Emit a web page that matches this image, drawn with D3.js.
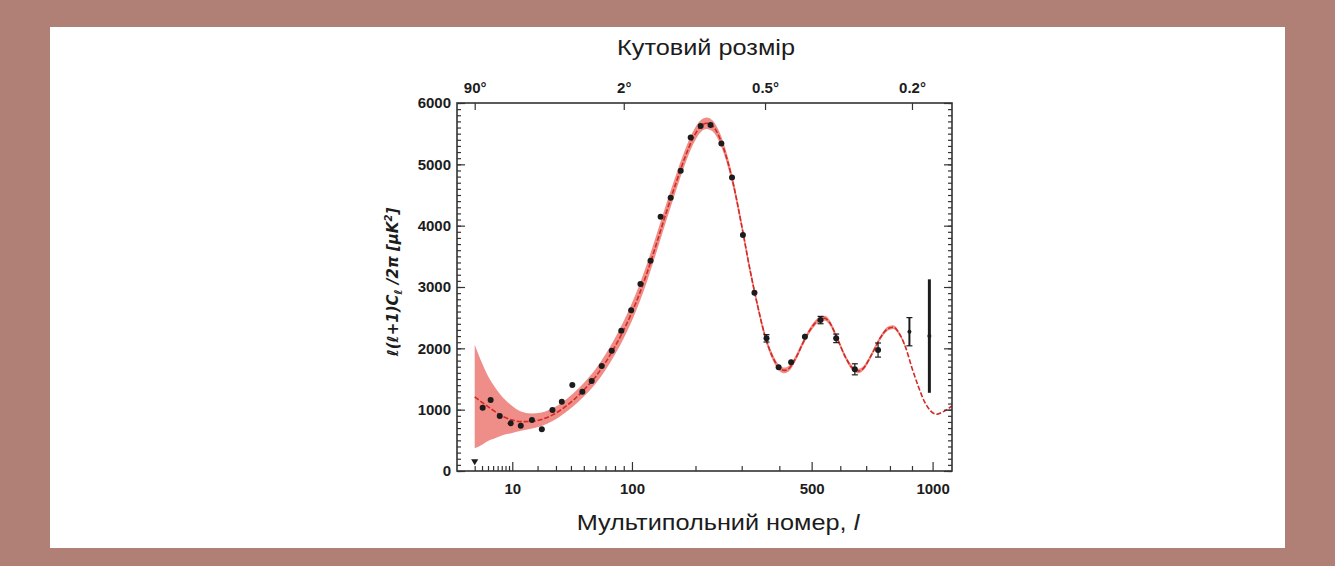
<!DOCTYPE html>
<html>
<head>
<meta charset="utf-8">
<script src="https://cdn.jsdelivr.net/npm/d3@7"></script>
<style>
  html, body { margin: 0; padding: 0; background: #b08076; }
  #chart { width: 1335px; height: 566px; }
  text { font-family: "Liberation Sans", Arial, Helvetica, sans-serif; }
</style>
</head>
<body>
<div id="chart"></div>
<script>
// best fit model (l, uK^2)
var theoryL = [2, 3, 4, 5, 7, 10, 13, 17, 22, 28, 35, 42, 50, 60, 70, 80, 90, 100, 110, 120, 135, 150, 165, 180, 195, 210, 222, 235, 250, 265, 280, 300, 320, 340, 360, 380, 400, 415, 430, 450, 475, 500, 530, 545, 560, 590, 620, 650, 670, 690, 720, 760, 790, 815, 840, 870, 900, 930, 960, 990, 1020, 1050, 1100];
var theoryValue = [1210, 1120, 1050, 990, 900, 830, 805, 808, 840, 915, 1030, 1160, 1320, 1530, 1770, 2030, 2300, 2590, 2900, 3230, 3750, 4250, 4700, 5100, 5420, 5620, 5670, 5620, 5420, 5100, 4680, 4000, 3300, 2700, 2200, 1870, 1680, 1640, 1680, 1850, 2120, 2340, 2480, 2490, 2430, 2150, 1850, 1660, 1630, 1680, 1880, 2180, 2320, 2345, 2250, 2020, 1680, 1380, 1130, 980, 925, 960, 1060];

// cosmic variance band (pink)
var bandL = [2, 3, 4, 5, 7, 10, 13, 17, 22, 28, 35, 42, 50, 60, 70, 80, 90, 100, 110, 120, 135, 150, 165, 180, 195, 210, 222, 235, 250, 265, 280, 300, 320, 340, 360, 380, 400, 415, 430, 450, 475, 500, 530, 545, 560, 590, 620, 650, 670, 690, 720, 760, 790, 815, 840, 870];
var bandLow = [370, 430, 490, 520, 580, 620, 655, 688, 735, 815, 935, 1060, 1215, 1415, 1645, 1900, 2165, 2450, 2760, 3090, 3610, 4115, 4575, 4985, 5315, 5525, 5575, 5530, 5335, 5020, 4605, 3930, 3235, 2640, 2145, 1820, 1632, 1594, 1635, 1806, 2077, 2298, 2439, 2450, 2390, 2111, 1812, 1623, 1594, 1645, 1846, 2147, 2288, 2314, 2220, 2000];
var bandHigh = [2060, 1760, 1550, 1410, 1220, 1060, 970, 938, 955, 1025, 1135, 1270, 1435, 1655, 1905, 2170, 2445, 2740, 3050, 3380, 3895, 4390, 4830, 5220, 5530, 5720, 5765, 5710, 5505, 5180, 4755, 4070, 3365, 2760, 2255, 1920, 1728, 1686, 1725, 1894, 2163, 2382, 2521, 2530, 2470, 2189, 1888, 1697, 1666, 1715, 1914, 2213, 2352, 2376, 2280, 2040];

// measured band powers
var dataL = [3.1, 4.5, 6.5, 9.5, 12.9, 17.4, 22.1, 27.9, 33.7, 41, 48.8, 56.8, 66.2, 76.5, 87.1, 99, 111, 125, 140, 156, 173, 191, 210, 230, 253, 277, 303, 332, 364, 398, 435, 478, 530, 585, 655, 749, 888, 984];
var dataValue = [1030, 1157, 896, 777, 739, 831, 679, 994, 1130, 1402, 1293, 1467, 1711, 1961, 2287, 2620, 3048, 3428, 4145, 4455, 4895, 5439, 5623, 5640, 5341, 4787, 3847, 2906, 2163, 1690, 1772, 2189, 2461, 2163, 1658, 1972, 2271, 2200];
var dataError = [30, 30, 30, 30, 30, 30, 30, 30, 30, 30, 30, 30, 30, 30, 30, 30, 30, 30, 30, 30, 30, 30, 30, 30, 30, 30, 30, 40, 60, 40, 40, 50, 60, 70, 90, 115, 230, 925];

// quadrupole, drawn as a triangle
var limitL = [2];
var limitValue = [160];

var multipoleTicks = [10, 100, 500, 1000];
var multipoleMinor = [2, 3, 4, 5, 6, 7, 8, 9, 20, 30, 40, 50, 60, 70, 80, 90, 200, 300, 400, 600, 700, 800, 900];
var angleL = [2, 90, 360, 900];
var angleLabels = ['90°', '2°', '0.5°', '0.2°'];
var powerTicks = [0, 1000, 2000, 3000, 4000, 5000, 6000];
var powerMinor = d3.range(0, 6001, 100);

var chart = (function(){
    var _width = 1335,
        _height = 566;

    // white panel inside the brown border
    var _panel = {x: 50, y: 27, w: 1235, h: 521};

    // plot frame
    var _plot = {x: 457, y: 103, w: 495, h: 368};

    var _colors = {
        border: '#b08076',
        band: '#ef8d88',
        model: '#d42a24',
        ink: '#1c1c1c',
        frame: '#333333'
    };

    var _svg = null, _x = null, _y = null;

    function init(){
        _svg = d3.select('#chart').append('svg')
            .attr('width', _width)
            .attr('height', _height);

        _x = d3.scalePow().exponent(0.4)
            .domain([0.5, 1100])
            .range([0, _plot.w]);
        _y = d3.scaleLinear()
            .domain([0, 6000])
            .range([_plot.h, 0]);
    }

    function drawAll(){
        _svg.append('rect')
            .attr('width', _width).attr('height', _height)
            .attr('fill', _colors.border);
        _svg.append('rect')
            .attr('x', _panel.x).attr('y', _panel.y)
            .attr('width', _panel.w).attr('height', _panel.h)
            .attr('fill', '#fff');

        var g = _svg.append('g')
            .attr('transform', 'translate(' + _plot.x + ',' + _plot.y + ')');

        _drawBand(g);
        _drawModel(g);
        _drawData(g);
        _drawAxes(g);
        _drawLabels();
    }

    function _drawBand(g){
        var area = d3.area()
            .x(function(d, i){ return _x(bandL[i]); })
            .y0(function(d, i){ return _y(bandLow[i]); })
            .y1(function(d, i){ return _y(bandHigh[i]); })
            .curve(d3.curveMonotoneX);

        g.append('path')
            .datum(bandL)
            .attr('d', area)
            .attr('fill', _colors.band);
    }

    function _drawModel(g){
        var line = d3.line()
            .x(function(d, i){ return _x(theoryL[i]); })
            .y(function(d, i){ return _y(theoryValue[i]); })
            .curve(d3.curveMonotoneX);

        g.append('path')
            .datum(theoryL)
            .attr('d', line)
            .attr('fill', 'none')
            .attr('stroke', _colors.model)
            .attr('stroke-width', 1.6)
            .attr('stroke-dasharray', '5,2');
    }

    function _drawData(g){
        var idx = d3.range(dataL.length);

        // error bars, thicker where the error is big
        var bars = g.append('g').selectAll('g')
            .data(idx)
            .enter().append('g')
                .attr('stroke', _colors.ink)
                .attr('stroke-width', function(i){ return dataError[i] > 500 ? 3 : dataError[i] > 200 ? 2 : 1.2; });

        bars.append('line')
            .attr('x1', function(i){ return _x(dataL[i]); })
            .attr('x2', function(i){ return _x(dataL[i]); })
            .attr('y1', function(i){ return _y(dataValue[i] - dataError[i]); })
            .attr('y2', function(i){ return _y(dataValue[i] + dataError[i]); });

        bars.filter(function(i){ return dataError[i] > 50 && dataError[i] < 500; })
            .selectAll('line.cap')
            .data(function(i){ return [[i, -1], [i, 1]]; })
            .enter().append('line')
                .attr('class', 'cap')
                .attr('stroke-width', 1.2)
                .attr('x1', function(d){ return _x(dataL[d[0]]) - 3; })
                .attr('x2', function(d){ return _x(dataL[d[0]]) + 3; })
                .attr('y1', function(d){ return _y(dataValue[d[0]] + d[1] * dataError[d[0]]); })
                .attr('y2', function(d){ return _y(dataValue[d[0]] + d[1] * dataError[d[0]]); });

        g.append('g').selectAll('circle')
            .data(idx)
            .enter().append('circle')
                .attr('cx', function(i){ return _x(dataL[i]); })
                .attr('cy', function(i){ return _y(dataValue[i]); })
                .attr('r', function(i){ return dataError[i] > 200 ? 2 : 3; })
                .attr('fill', _colors.ink);

        g.append('g').selectAll('path')
            .data(limitL)
            .enter().append('path')
                .attr('d', d3.symbol(d3.symbolTriangle, 22))
                .attr('transform', function(d, i){ return 'translate(' + _x(d) + ',' + _y(limitValue[i]) + ') rotate(180)'; })
                .attr('fill', _colors.ink);
    }

    function _styleAxis(sel){
        sel.select('.domain').remove();
        sel.selectAll('line').attr('stroke', _colors.frame).attr('stroke-width', 1.2);
        sel.selectAll('text')
            .attr('fill', _colors.ink)
            .style('font-size', '15px')
            .style('font-weight', 'bold');
    }

    function _drawAxes(g){
        var noLabel = function(){ return ''; };

        // bottom: multipole
        g.append('g').attr('transform', 'translate(0,' + _plot.h + ')')
            .call(d3.axisBottom(_x).tickValues(multipoleMinor).tickFormat(noLabel).tickSizeInner(-5).tickSizeOuter(0))
            .call(_styleAxis);
        g.append('g').attr('transform', 'translate(0,' + _plot.h + ')')
            .call(d3.axisBottom(_x).tickValues(multipoleTicks).tickFormat(d3.format('d')).tickSizeInner(-9).tickSizeOuter(0).tickPadding(12))
            .call(_styleAxis);

        // top: angular size
        g.append('g')
            .call(d3.axisTop(_x).tickValues(angleL).tickFormat(function(d, i){ return angleLabels[i]; }).tickSizeInner(-7).tickSizeOuter(0).tickPadding(10))
            .call(_styleAxis);

        // left and right, ticks pointing inwards
        g.append('g')
            .call(d3.axisLeft(_y).tickValues(powerMinor).tickFormat(noLabel).tickSizeInner(-4).tickSizeOuter(0))
            .call(_styleAxis);
        g.append('g')
            .call(d3.axisLeft(_y).tickValues(powerTicks).tickFormat(d3.format('d')).tickSizeInner(-8).tickSizeOuter(0).tickPadding(6))
            .call(_styleAxis);
        g.append('g').attr('transform', 'translate(' + _plot.w + ',0)')
            .call(d3.axisRight(_y).tickValues(powerMinor).tickFormat(noLabel).tickSizeInner(-4).tickSizeOuter(0))
            .call(_styleAxis);
        g.append('g').attr('transform', 'translate(' + _plot.w + ',0)')
            .call(d3.axisRight(_y).tickValues(powerTicks).tickFormat(noLabel).tickSizeInner(-8).tickSizeOuter(0))
            .call(_styleAxis);

        g.append('rect')
            .attr('width', _plot.w).attr('height', _plot.h)
            .attr('fill', 'none')
            .attr('stroke', _colors.frame)
            .attr('stroke-width', 1.6);
    }

    function _drawLabels(){
        // the captions in the picture are a little wider than plain Arial
        _svg.append('text')
            .attr('transform', 'translate(706,55) scale(1.15,1)')
            .attr('text-anchor', 'middle')
            .attr('fill', _colors.ink)
            .style('font-size', '22px')
            .text('Кутовий розмір');

        var xl = _svg.append('text')
            .attr('transform', 'translate(718,530) scale(1.15,1)')
            .attr('text-anchor', 'middle')
            .attr('fill', _colors.ink)
            .style('font-size', '22px');
        xl.append('tspan').text('Мультипольний номер, ');
        xl.append('tspan').style('font-style', 'italic').text('l');

        var yl = _svg.append('text')
            .attr('transform', 'translate(398,282) rotate(-90)')
            .attr('text-anchor', 'middle')
            .attr('fill', _colors.ink)
            .style('font-size', '15px')
            .style('font-style', 'italic')
            .style('font-weight', 'bold')
            .style('font-family', '"DejaVu Sans", sans-serif');
        yl.append('tspan').text('ℓ(ℓ+1)C');
        yl.append('tspan').attr('dy', 4).style('font-size', '11px').text('ℓ');
        yl.append('tspan').attr('dy', -4).text(' /2π  [μK');
        yl.append('tspan').attr('dy', -6).style('font-size', '10px').text('2');
        yl.append('tspan').attr('dy', 6).text(']');
    }

    return {
        init: init,
        drawAll: drawAll
    };
})();

chart.init();
chart.drawAll();
</script>
</body>
</html>
